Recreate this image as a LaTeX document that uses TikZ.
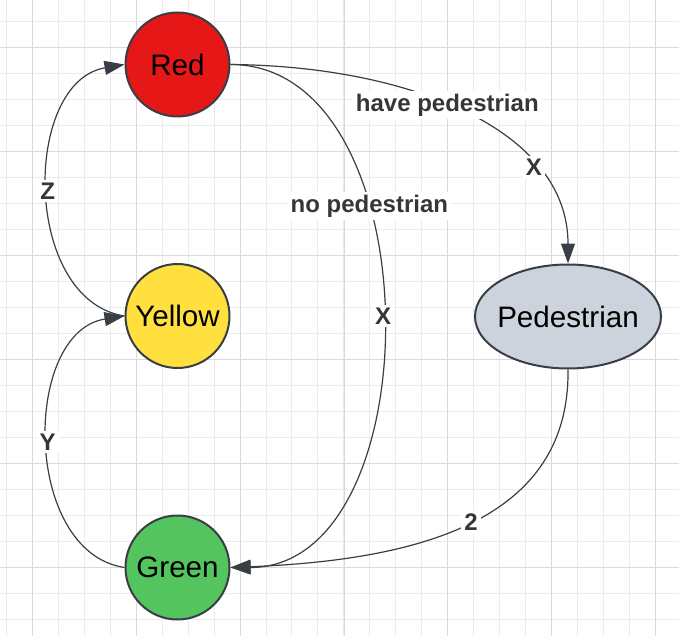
\documentclass[tikz,border=0pt]{standalone}
\usepackage{fontspec}
\setmainfont{Liberation Sans}
\usepackage{tikz}
\usetikzlibrary{arrows.meta, positioning, shapes.geometric}

\definecolor{strokecol}{HTML}{393E46}
\definecolor{labelgray}{HTML}{363636}
\definecolor{redfill}{HTML}{E61717}
\definecolor{yellowfill}{HTML}{FFE03E}
\definecolor{greenfill}{HTML}{54C45E}
\definecolor{pedfill}{HTML}{CCD3DC}
\definecolor{minorgrid}{HTML}{EBEBEB}
\definecolor{majorgrid}{HTML}{DADADA}

\begin{document}
\begin{tikzpicture}[
  x=0.5pt, y=-0.5pt,
  state/.style={draw=strokecol, line width=1pt, circle, minimum size=52pt, inner sep=0pt, font=\fontsize{14.8}{17}\selectfont},
  pedstate/.style={draw=strokecol, line width=1pt, ellipse, minimum width=93pt, minimum height=52pt, inner xsep=-2.5pt, inner ysep=0pt, font=\fontsize{14.8}{17}\selectfont},
  arrow/.style={-{Triangle[length=10pt, width=7pt]}, draw=strokecol, line width=0.6pt},
  lbl/.style={font=\bfseries\fontsize{12}{14}\selectfont, text=labelgray, fill=white, inner sep=1.5pt},
  minorline/.style={draw=minorgrid, line width=0.5pt},
  majorline/.style={draw=majorgrid, line width=0.5pt},
  node distance=72.75pt
]
  \useasboundingbox (0,0) rectangle (679,636);

  % grid
  \foreach \i in {0,...,25} \draw[minorline] ({6.3+\i*25.97},0) -- ({6.3+\i*25.97},636);
  \foreach \j in {1,...,24} \draw[minorline] (0,{-4+\j*25.97}) -- (679,{-4+\j*25.97});
  \foreach \i in {0,...,6} \draw[majorline] ({32.3+\i*103.9},0) -- ({32.3+\i*103.9},636);
  \foreach \j in {0,...,5} \draw[majorline] (0,{48+\j*103.9}) -- (679,{48+\j*103.9});

  \node[state, fill=redfill] (Red) at (177.5,64.5) {Red};
  \node[state, fill=yellowfill, below=of Red] (Yellow) {Yellow};
  \node[state, fill=greenfill, below=of Yellow] (Green) {Green};
  \node[pedstate, fill=pedfill] (Pedestrian) at (568,316.5) {Pedestrian};

  \draw[arrow] (Yellow.west) .. controls (22,300) and (22,82) .. node[lbl, pos=0.5] {Z} (Red.west);
  \draw[arrow] (Green.west) .. controls (22,552) and (22,332) .. node[lbl, pos=0.5] {Y} (Yellow.west);
  \draw[arrow] (Red.east) .. controls (434,64.5) and (434,567.5) .. node[lbl, pos=0.35] {no pedestrian} node[lbl, pos=0.5] {X} (Green.east);
  \draw[arrow] (Red.east) .. controls (410,66) and (568,130) .. node[lbl, pos=0.45] {have pedestrian} node[lbl, pos=0.72] {X} (Pedestrian.north);
  \draw[arrow] (Pedestrian.south) .. controls (570,520) and (420,560) .. node[lbl, pos=0.5] {2} (Green.east);
\end{tikzpicture}
\end{document}
